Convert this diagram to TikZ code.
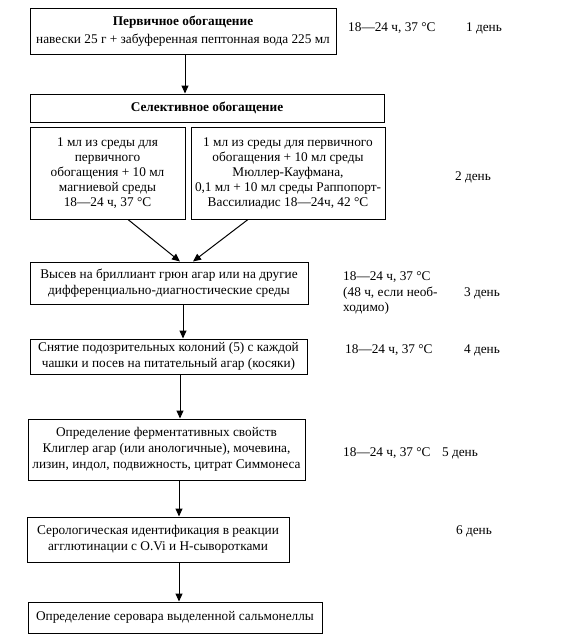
\documentclass[tikz,border=0pt]{standalone}
\usepackage{fontspec}
\setmainfont{Liberation Serif}
\usetikzlibrary{arrows.meta}
\tikzstyle{b}=[draw,line width=1pt,align=center,inner sep=2pt,font=\fontsize{13.3}{16.5}\selectfont]
\tikzstyle{t}=[align=left,inner sep=0,font=\fontsize{13.3}{15.5}\selectfont]

\begin{document}
\begin{tikzpicture}[x=1pt,y=-1pt]
	\useasboundingbox (0,0) rectangle (575,638);

                        \node[b,minimum width=306pt,minimum height=46pt,font=\fontsize{13.3}{18}\selectfont] (p) at (183,31) {\textbf{Первичное обогащение}\\навески 25 г + забуференная пептонная вода 225 мл};
                        \node[b,minimum width=354pt,minimum height=28pt] (s) at (207,108) {\textbf{Селективное обогащение}};
                        \node[b,minimum width=155pt,minimum height=92pt,font=\fontsize{13.3}{15}\selectfont] (m) at (107.5,173) {1 мл из среды для\\первичного\\обогащения + 10 мл\\магниевой среды\\18—24 ч, 37 °C};
                        \node[b,minimum width=194pt,minimum height=92pt,font=\fontsize{13.3}{15}\selectfont] (r) at (288,173) {1 мл из среды для первичного\\обогащения + 10 мл среды\\Мюллер-Кауфмана,\\0,1 мл + 10 мл среды Раппопорт-\\Вассилиадис 18—24ч, 42 °C};
                        \node[b,minimum width=278pt,minimum height=42pt] (v) at (169,283) {Высев на бриллиант грюн агар или на другие\\дифференциально-диагностические среды};
                        \node[b,minimum width=277pt,minimum height=35pt] (c) at (168.5,356.5) {Снятие подозрительных колоний (5) с каждой\\чашки и посев на питательный агар (косяки)};
                        \node[b,minimum width=277pt,minimum height=61pt,font=\fontsize{13.3}{16}\selectfont] (f) at (166.5,449.5) {Определение ферментативных свойств\\Клиглер агар (или анологичные), мочевина,\\лизин, индол, подвижность, цитрат Симмонеса};
                        \node[b,minimum width=262pt,minimum height=45pt] (g) at (158,539.5) {Серологическая идентификация в реакции\\агглютинации с O.Vi и H-сыворотками};
                        \node[b,minimum width=294pt,minimum height=31pt] (e) at (175,617.5) {Определение серовара выделенной сальмонеллы};

                        \node[t,anchor=west] (t1) at (348,28) {18—24 ч, 37 °C};
                        \node[t] (d1) at (484,28) {1 день};
                        \node[t] (d2) at (473,177) {2 день};
                        \node[t,anchor=west] (t3) at (343,293) {18—24 ч, 37 °C\\(48 ч, если необ-\\ходимо)};
                        \node[t] (d3) at (482,293) {3 день};
                        \node[t,anchor=west] (t4) at (345,350) {18—24 ч, 37 °C};
                        \node[t] (d4) at (482,350) {4 день};
                        \node[t,anchor=west] (t5) at (343,453) {18—24 ч, 37 °C};
                        \node[t] (d5) at (460,453) {5 день};
                        \node[t] (d6) at (474,531) {6 день};

                        \coordinate (k1) at (185,0);
                        \coordinate (k2) at (128,0);
                        \coordinate (k3) at (180,0);
                        \coordinate (k4) at (248,0);
                        \coordinate (k5) at (193,0);
                        \coordinate (k6) at (183,0);
                        \coordinate (k7) at (180,0);
                        \coordinate (k8) at (179,0);

                        \draw[line width=1pt,-{Triangle[length=8pt,width=7pt]}]
                        (p.south -| k1) -- (s.north -| k1);
                        \draw[line width=1pt,-{Triangle[length=8pt,width=7pt]}]
                        (m.south -| k2) -- (v.north -| k3);
                        \draw[line width=1pt,-{Triangle[length=8pt,width=7pt]}]
                        (r.south -| k4) -- (v.north -| k5);
                        \draw[line width=1pt,-{Triangle[length=8pt,width=7pt]}]
                        (v.south -| k6) -- (c.north -| k6);
                        \draw[line width=1pt,-{Triangle[length=8pt,width=7pt]}]
                        (c.south -| k7) -- (f.north -| k7);
                        \draw[line width=1pt,-{Triangle[length=8pt,width=7pt]}]
                        (f.south -| k8) -- (g.north -| k8);
                        \draw[line width=1pt,-{Triangle[length=8pt,width=7pt]}]
                        (g.south -| k8) -- (e.north -| k8);

    \end{tikzpicture}
\end{document}
